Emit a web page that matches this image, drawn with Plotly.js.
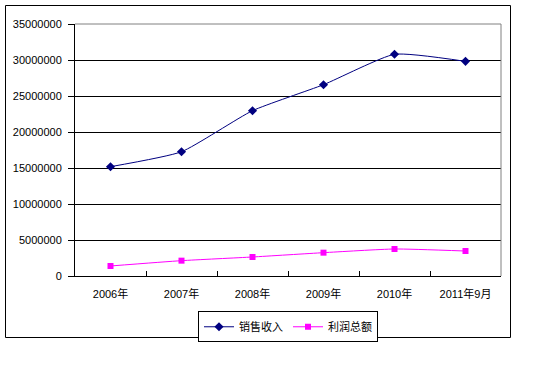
<!DOCTYPE html>
<html>
<head>
<meta charset="utf-8">
<script src="https://cdn.plot.ly/plotly-3.0.1.min.js"></script>
<style>
html,body{margin:0;padding:0;background:#fff;}
#chart{width:538px;height:374px;}
</style>
</head>
<body>
<div id="chart"></div>
<script>
var categories = ["2006年", "2007年", "2008年", "2009年", "2010年", "2011年9月"];
var salesRevenue = [15180000, 17260000, 22960000, 26570000, 30790000, 29810000];
var totalProfit = [1390000, 2130000, 2640000, 3240000, 3750000, 3470000];
var seriesNames = ["销售收入", "利润总额"];
var yTicks = [0, 5000000, 10000000, 15000000, 20000000, 25000000, 30000000, 35000000];

var FONT = "Liberation Sans, Arial, Noto Sans CJK SC, sans-serif";

var traces = [
  {
    x: categories, y: salesRevenue, name: seriesNames[0],
    type: "scatter", mode: "lines+markers",
    line: {color: "#000080", width: 1, shape: "spline", smoothing: 0.5},
    marker: {symbol: "diamond", size: 7, color: "#000080"}
  },
  {
    x: categories, y: totalProfit, name: seriesNames[1],
    type: "scatter", mode: "lines+markers",
    line: {color: "#FF00FF", width: 1, shape: "spline", smoothing: 0.5},
    marker: {symbol: "square", size: 6, color: "#FF00FF"}
  }
];

var layout = {
  width: 538, height: 374,
  margin: {l: 75, r: 37, t: 24, b: 98, pad: 0},
  paper_bgcolor: "#fff", plot_bgcolor: "#fff",
  font: {family: FONT, size: 11, color: "#000"},
  showlegend: true,
  legend: {
    orientation: "h", x: 0.5, xanchor: "center", y: -0.14, yanchor: "top",
    bordercolor: "#000", borderwidth: 1, bgcolor: "#fff",
    font: {family: "Noto Sans CJK SC, sans-serif", size: 11, color: "#000"},
    itemwidth: 30, tracegroupgap: 0
  },
  xaxis: {
    type: "category", tickson: "boundaries", range: [-0.5, 5.5],
    ticks: "inside", ticklen: 5, tickcolor: "#000", tickwidth: 1,
    showline: true, linecolor: "#000", linewidth: 1,
    showgrid: false, zeroline: false, automargin: false,
    ticklabelstandoff: 8,
    tickfont: {family: FONT, size: 11, color: "#000"},
    fixedrange: true
  },
  yaxis: {
    range: [0, 35000000], tickvals: yTicks,
    ticktext: yTicks.map(function(v){return String(v);}),
    ticks: "outside", ticklen: 6, tickcolor: "#000", tickwidth: 1,
    showline: true, linecolor: "#000", linewidth: 1,
    showgrid: true, gridcolor: "#000", gridwidth: 1,
    zeroline: false, automargin: false,
    ticklabelstandoff: 4,
    tickfont: {family: FONT, size: 11, color: "#000"},
    fixedrange: true
  },
  shapes: [
    {type: "line", xref: "paper", yref: "paper", x0: 0, x1: 1, y0: 1, y1: 1,
     line: {color: "#808080", width: 1}},
    {type: "line", xref: "paper", yref: "paper", x0: 1, x1: 1, y0: 0, y1: 1,
     line: {color: "#808080", width: 1}},
    {type: "rect", xref: "paper", yref: "paper",
     x0: (5.5 - 75) / 426, x1: (510.5 - 75) / 426,
     y0: (276 - 337.5) / 252, y1: (276 - 5.5) / 252,
     line: {color: "#000", width: 1}, fillcolor: "rgba(0,0,0,0)"}
  ]
};

Plotly.newPlot("chart", traces, layout, {displayModeBar: false, staticPlot: true});
</script>
</body>
</html>
